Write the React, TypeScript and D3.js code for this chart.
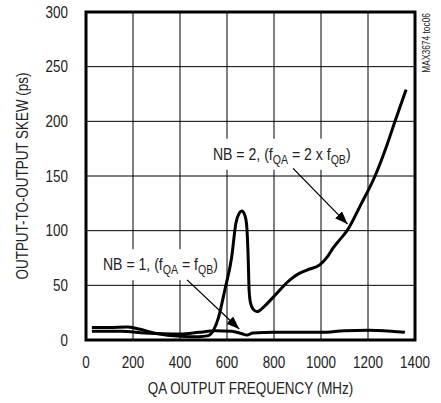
import { useRef, useLayoutEffect, useState } from 'react';
import * as d3 from 'd3';

// QA output frequency (MHz) vs skew (ps)
const nb2Freq = [25, 100, 175, 225, 300, 400, 480, 520, 545, 563, 591, 620, 638, 652, 663, 676, 684, 690, 694, 700, 712, 727, 760, 796, 868, 900, 940, 996, 1030, 1051, 1081, 1111, 1170, 1230, 1280, 1315, 1362];
const nb2Skew = [11.5, 11.5, 12, 10, 6, 3.5, 3, 4, 10, 20, 46, 76, 107, 116, 118, 114, 104, 76, 46, 34, 28, 26, 31, 39, 55, 60, 64, 69, 77, 84, 92, 100, 124, 150, 178, 200, 229];

const nb1Freq = [25, 150, 250, 400, 480, 550, 620, 660, 685, 710, 800, 1000, 1100, 1200, 1300, 1357];
const nb1Skew = [8, 8, 6.5, 5.5, 7, 8.5, 8, 6, 4.5, 6.5, 7, 7, 8.5, 9, 8, 7];

const xTicks = [0, 200, 400, 600, 800, 1000, 1200, 1400];
const yTicks = [0, 50, 100, 150, 200, 250, 300];

// annotation anchors, in data units: [text x, text y, arrow start x, start y, tip x, tip y]
const nb2Note = [540, 165, 881, 157, 1113, 106];
const nb1Note = [72, 64, 430, 55, 652, 10];

const W = 441;
const H = 403;
const FONT = "'Liberation Sans', Arial, sans-serif";
const SQ = 0.84; // squeeze to look like a narrow face

// text drawn squeezed horizontally, around its anchor point
const NText = ({ x, y, rot = 0, sq = SQ, children, ...rest }: any) => (
  <text transform={`translate(${x},${y}) rotate(${rot}) scale(${sq},1)`} {...rest}>{children}</text>
);

const App = () => {
  const t1 = useRef<SVGGElement>(null);
  const t2 = useRef<SVGGElement>(null);
  const [boxes, setBoxes] = useState<any[]>([]);

  const x = d3.scaleLinear().domain([0, 1400]).range([86, 415]);
  const y = d3.scaleLinear().domain([0, 300]).range([340, 12]);

  const line = d3.line<[number, number]>()
    .x(d => x(d[0]))
    .y(d => y(d[1]))
    .curve(d3.curveMonotoneX);

  const nb2 = nb2Freq.map((f, i) => [f, nb2Skew[i]] as [number, number]);
  const nb1 = nb1Freq.map((f, i) => [f, nb1Skew[i]] as [number, number]);

  useLayoutEffect(() => {
    const b = [t1.current, t2.current].map(g => {
      const r = g!.getBoundingClientRect();
      return { x: r.left - 4, y: r.top - 6, w: r.width + 8, h: r.height + 10 };
    });
    setBoxes(b);
  }, []);

  const sub = (s: string) => (
    <tspan fontSize={12} dy={4}>{s}</tspan>
  );

  return (
    <svg width={W} height={H} style={{ position: 'absolute', left: 0, top: 0, background: '#fff' }} fontFamily={FONT}>
      <defs>
        <marker id="arr" markerUnits="userSpaceOnUse" markerWidth={14} markerHeight={10} refX={13} refY={5} orient="auto">
          <path d="M0,0 L13,5 L0,10 Z" fill="#000" />
        </marker>
      </defs>

      {/* grid */}
      <g stroke="#000" strokeWidth={1}>
        {xTicks.slice(1, -1).map(t => (
          <line key={t} x1={x(t)} x2={x(t)} y1={y(0)} y2={y(300)} />
        ))}
        {yTicks.slice(1, -1).map(t => (
          <line key={t} x1={x(0)} x2={x(1400)} y1={y(t)} y2={y(t)} />
        ))}
      </g>

      {/* labels with white boxes */}
      {boxes.map((b, i) => (
        <rect key={i} x={b.x} y={b.y} width={b.w} height={b.h} fill="#fff" />
      ))}
      <g ref={t1}>
        <NText x={x(nb2Note[0])} y={y(nb2Note[1])} sq={0.88} fontSize={16} fill="#222">
          NB = 2, (f{sub('QA')}<tspan dy={-4}> = 2 x f</tspan>{sub('QB')}<tspan dy={-4}>)</tspan>
        </NText>
      </g>
      <g ref={t2}>
        <NText x={x(nb1Note[0])} y={y(nb1Note[1])} sq={0.88} fontSize={16} fill="#222">
          NB = 1, (f{sub('QA')}<tspan dy={-4}> = f</tspan>{sub('QB')}<tspan dy={-4}>)</tspan>
        </NText>
      </g>

      {/* arrows */}
      {[nb2Note, nb1Note].map((n, i) => (
        <line key={i} x1={x(n[2])} y1={y(n[3])} x2={x(n[4])} y2={y(n[5])}
          stroke="#000" strokeWidth={1.3} markerEnd="url(#arr)" />
      ))}

      {/* curves */}
      <path d={line(nb1) || ''} fill="none" stroke="#000" strokeWidth={3} strokeLinejoin="round" />
      <path d={line(nb2) || ''} fill="none" stroke="#000" strokeWidth={3} strokeLinejoin="round" />

      {/* frame */}
      <rect x={x(0)} y={y(300)} width={x(1400) - x(0)} height={y(0) - y(300)} fill="none" stroke="#000" strokeWidth={3} />

      {/* ticks */}
      <g fontSize={16} fill="#222">
        {yTicks.map(t => (
          <NText key={t} x={68} y={y(t)} dy="0.36em" textAnchor="end">{t}</NText>
        ))}
        {xTicks.map(t => (
          <NText key={t} x={x(t)} y={368} textAnchor="middle">{t}</NText>
        ))}
      </g>

      <NText x={(x(0) + x(1400)) / 2} y={394} fontSize={16} textAnchor="middle" fill="#222">
        QA OUTPUT FREQUENCY (MHz)
      </NText>
      <NText x={28} y={(y(0) + y(300)) / 2} rot={-90} fontSize={16} textAnchor="middle" fill="#222">
        OUTPUT-TO-OUTPUT SKEW (ps)
      </NText>
      <NText x={430} y={13} rot={-90} fontSize={10} textAnchor="end" fill="#222">
        MAX3674 toc06
      </NText>
    </svg>
  );
};

export default App;
